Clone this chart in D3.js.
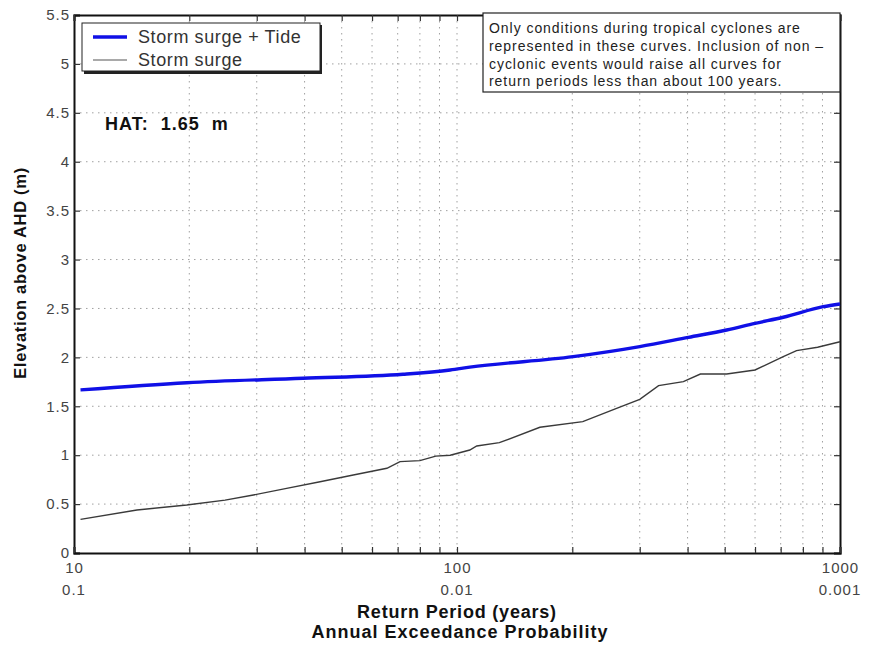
<!DOCTYPE html>
<html>
<head>
<meta charset="utf-8">
<script src="https://cdn.jsdelivr.net/npm/d3@7/dist/d3.min.js"></script>
<style>
  body { margin: 0; background: #fff; }
  svg { font-family: "Liberation Sans", Arial, sans-serif; }
</style>
</head>
<body>
<svg id="chart" width="871" height="648"></svg>
<script>
// Return periods (years) and elevations above AHD (m)
const surgeTidePeriods = [10.4, 19.7, 39.6, 72.3, 96, 108, 201, 300, 402, 506, 600, 711, 904, 1000];
const surgeTideValues  = [1.667, 1.741, 1.786, 1.827, 1.871, 1.90, 2.007, 2.11, 2.205, 2.28, 2.348, 2.41, 2.518, 2.546];

const surgePeriods = [10.4, 14.6, 19.7, 24.8, 29.4, 35.9, 43.9, 53.6, 65.6, 71, 80, 88, 96, 108, 112.6, 129, 164.6, 213, 261, 300, 336, 390, 432, 506, 600, 711, 770, 874, 1000];
const surgeValues  = [0.344, 0.44, 0.49, 0.54, 0.593, 0.661, 0.729, 0.797, 0.866, 0.934, 0.944, 0.99, 1.0, 1.053, 1.094, 1.128, 1.285, 1.343, 1.479, 1.571, 1.711, 1.752, 1.83, 1.83, 1.871, 2.007, 2.069, 2.103, 2.16];

const yTicks = [0, 0.5, 1, 1.5, 2, 2.5, 3, 3.5, 4, 4.5, 5, 5.5];
const xMajorTicks = [10, 100, 1000];
const xMajorTickLabels = ["10", "100", "1000"];
const aepLabels = ["0.1", "0.01", "0.001"];
const seriesNames = ["Storm surge + Tide", "Storm surge"];
const noteLines = [
  "Only conditions during tropical cyclones are",
  "represented in these curves. Inclusion of non \u2013",
  "cyclonic events would raise all curves for",
  "return periods less than about 100 years."
];
const hatLabel = "HAT:  1.65  m";

const svg = d3.select("#chart");
const plotLeft = 74, plotRight = 840, plotTop = 15, plotBottom = 553;

const x = d3.scaleLog().domain([10, 1000]).range([plotLeft, plotRight]);
const y = d3.scaleLinear().domain([0, 5.5]).range([plotBottom, plotTop]);

// minor + major log ticks
const xAllTicks = [];
for (const dec of [10, 100]) for (let k = 1; k <= 10; k++) xAllTicks.push(dec * k);
const xTickSet = Array.from(new Set(xAllTicks));
const xGrid = xTickSet.filter(v => v > 10 && v < 1000);

// dotted grid
const grid = svg.append("g").attr("stroke", "#a0a0a0").attr("stroke-width", 1)
  .attr("stroke-dasharray", "1.5,4.5");
grid.selectAll("line.v").data(xGrid).join("line").attr("class", "v")
  .attr("x1", d => x(d)).attr("x2", d => x(d))
  .attr("y1", plotTop).attr("y2", plotBottom);
grid.selectAll("line.h").data(yTicks.filter(v => v > 0 && v < 5.5)).join("line").attr("class", "h")
  .attr("x1", plotLeft).attr("x2", plotRight)
  .attr("y1", d => y(d)).attr("y2", d => y(d));

// axes with inward ticks
const tickLen = 6;
const yAxisL = d3.axisLeft(y).tickValues(yTicks).tickSize(-tickLen).tickPadding(4).tickFormat(d3.format("~g"));
const yAxisR = d3.axisRight(y).tickValues(yTicks).tickSize(-tickLen).tickFormat("");
const xAxisB = d3.axisBottom(x).tickValues(xTickSet).tickSize(-tickLen)
  .tickPadding(6).tickFormat(d => xMajorTicks.includes(d) ? xMajorTickLabels[xMajorTicks.indexOf(d)] : "");
const xAxisT = d3.axisTop(x).tickValues(xTickSet).tickSize(-tickLen).tickFormat("");

function styleAxis(g) {
  g.select(".domain").attr("stroke", "#111").attr("stroke-width", 2);
  g.selectAll(".tick line").attr("stroke", "#333").attr("stroke-width", 1.2);
  g.selectAll(".tick text").attr("fill", "#444").style("font-size", "15px")
    .style("letter-spacing", "1px")
    .style("font-family", "'Liberation Sans', Arial, sans-serif");
}
svg.append("g").attr("transform", `translate(${plotLeft},0)`).call(yAxisL).call(styleAxis);
svg.append("g").attr("transform", `translate(${plotRight},0)`).call(yAxisR).call(styleAxis);
const xb = svg.append("g").attr("transform", `translate(0,${plotBottom})`).call(xAxisB).call(styleAxis);
xb.selectAll(".tick text").attr("dy", null).attr("y", 20);
svg.append("g").attr("transform", `translate(0,${plotTop})`).call(xAxisT).call(styleAxis);

// second row of x labels: annual exceedance probability
svg.append("g").selectAll("text").data(xMajorTicks).join("text")
  .attr("x", d => x(d)).attr("y", 595)
  .attr("text-anchor", "middle").attr("fill", "#444").style("font-size", "15px")
  .style("letter-spacing", "1px")
  .text((d, i) => aepLabels[i]);

// curves
const line = d3.line().x(d => x(d[0])).y(d => y(d[1]));
svg.append("path").datum(surgePeriods.map((p, i) => [p, surgeValues[i]]))
  .attr("d", line).attr("fill", "none").attr("stroke", "#3a3a3a").attr("stroke-width", 1.4);
svg.append("path").datum(surgeTidePeriods.map((p, i) => [p, surgeTideValues[i]]))
  .attr("d", d3.line().curve(d3.curveMonotoneX).x(d => x(d[0])).y(d => y(d[1])))
  .attr("fill", "none").attr("stroke", "#1010e6").attr("stroke-width", 3.4);

// legend box with shadow
const lg = svg.append("g");
lg.append("rect").attr("x", 84).attr("y", 25).attr("width", 238).attr("height", 49).attr("fill", "#222");
lg.append("rect").attr("x", 82).attr("y", 23).attr("width", 238).attr("height", 48)
  .attr("fill", "#fff").attr("stroke", "#222").attr("stroke-width", 1);
const legendStyles = [{ c: "#1010e6", w: 3.4 }, { c: "#555", w: 1.2 }];
seriesNames.forEach((name, i) => {
  const ly = 37 + i * 23;
  lg.append("line").attr("x1", 93).attr("x2", 127).attr("y1", ly).attr("y2", ly)
    .attr("stroke", legendStyles[i].c).attr("stroke-width", legendStyles[i].w);
  lg.append("text").attr("x", 138).attr("y", ly + 6).attr("fill", "#333")
    .style("font-size", "18px").style("letter-spacing", "0.6px").text(name);
});

// note box
const nb = svg.append("g");
nb.append("rect").attr("x", 483).attr("y", 13).attr("width", 357).attr("height", 79)
  .attr("fill", "#fff").attr("stroke", "#222").attr("stroke-width", 1.2);
noteLines.forEach((t, i) => {
  nb.append("text").attr("x", 489).attr("y", 33 + i * 17.8).attr("fill", "#222")
    .style("font-size", "14px").style("letter-spacing", "0.95px").text(t);
});

// HAT label
svg.append("text").attr("x", 105).attr("y", 130).attr("fill", "#111")
  .style("font-size", "18px").style("font-weight", "bold").style("letter-spacing", "1px")
  .style("white-space", "pre").text(hatLabel);

// axis titles
svg.append("text").attr("x", 457).attr("y", 618).attr("text-anchor", "middle")
  .attr("fill", "#111").style("font-size", "18px").style("font-weight", "bold")
  .style("letter-spacing", "0.8px")
  .text("Return Period (years)");
svg.append("text").attr("x", 460).attr("y", 638).attr("text-anchor", "middle")
  .attr("fill", "#111").style("font-size", "18px").style("font-weight", "bold")
  .style("letter-spacing", "1px")
  .text("Annual Exceedance Probability");
svg.append("text").attr("transform", "translate(26,273) rotate(-90)").attr("text-anchor", "middle")
  .attr("fill", "#111").style("font-size", "16.5px").style("font-weight", "bold")
  .style("letter-spacing", "0.7px")
  .text("Elevation above AHD (m)");
</script>
</body>
</html>
